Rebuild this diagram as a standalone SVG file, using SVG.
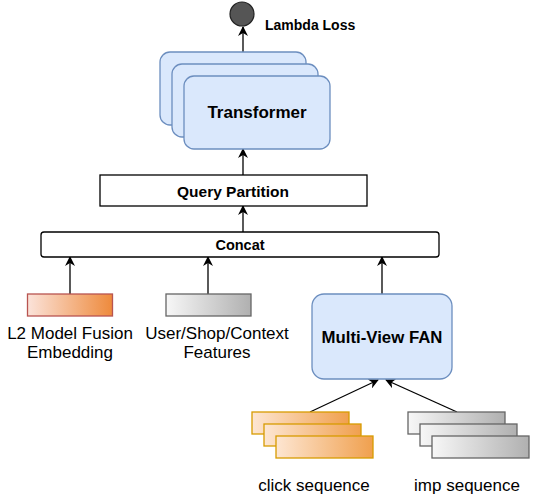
<svg xmlns="http://www.w3.org/2000/svg" width="538" height="499" viewBox="0 0 538 499">
<defs>
<linearGradient id="gOrange" x1="0" y1="0" x2="1" y2="0"><stop offset="0" stop-color="#fbe3da"/><stop offset="1" stop-color="#ee8a3c"/></linearGradient>
<linearGradient id="gGold" x1="0" y1="0" x2="1" y2="0"><stop offset="0" stop-color="#fde6d2"/><stop offset="1" stop-color="#f0a04e"/></linearGradient>
<linearGradient id="gGray" x1="0" y1="0" x2="1" y2="0"><stop offset="0" stop-color="#f7f7f7"/><stop offset="1" stop-color="#b0b0b0"/></linearGradient>
<marker id="arr" viewBox="0 0 10 10" refX="9" refY="5" markerWidth="10" markerHeight="10" markerUnits="userSpaceOnUse" orient="auto">
<path d="M0,0 L10,5 L0,10 L3,5 Z" fill="#000"/>
</marker>
<style>
.blue{fill:#dae8fc;stroke:#6c8ebf;stroke-width:1.3}
.plain{fill:#fff;stroke:#000;stroke-width:1.3}
.gold{fill:url(#gGold);stroke:#d79b00;stroke-width:1.3}
.gray{fill:url(#gGray);stroke:#666;stroke-width:1.3}
.bold{font-family:"Liberation Sans",Arial,sans-serif;font-weight:bold;fill:#000;text-anchor:middle}
.reg{font-family:"Liberation Sans",Arial,sans-serif;fill:#000;text-anchor:middle;font-size:17px}
.edge{stroke:#000;stroke-width:1.3;fill:none;marker-end:url(#arr)}
</style>
</defs>
<g id="connectors">
<path class="edge" d="M243,52 L243,27"/>
<path class="edge" d="M243,175 L243,149"/>
<path class="edge" d="M243,232 L243,206"/>
<path class="edge" d="M70,294 L70,257"/>
<path class="edge" d="M208,294 L208,257"/>
<path class="edge" d="M382,294 L382,257"/>
<path class="edge" d="M310,412 L378,380"/>
<path class="edge" d="M457,412 L386,380"/>
</g>
<g id="lambda-loss">
<circle cx="242" cy="14" r="12" fill="#555" stroke="#222" stroke-width="1.2"/>
<text x="265" y="30" font-family="Liberation Sans,Arial,sans-serif" font-weight="bold" font-size="14">Lambda Loss</text>
</g>
<g id="transformer">
<rect class="blue" x="160" y="52" width="146" height="73" rx="10"/>
<rect class="blue" x="172" y="64" width="146" height="73" rx="10"/>
<rect class="blue" x="184" y="76" width="146" height="73" rx="10"/>
<text class="bold" x="257" y="118" font-size="17">Transformer</text>
</g>
<g id="query-partition">
<rect class="plain" x="100" y="175" width="267" height="31"/>
<text class="bold" x="233" y="196.5" font-size="15.5">Query Partition</text>
</g>
<g id="concat">
<rect class="plain" x="41" y="232" width="398" height="25" rx="3"/>
<text class="bold" x="240" y="249.5" font-size="14.5">Concat</text>
</g>
<g id="l2-embedding">
<rect x="27.5" y="294" width="85" height="22" fill="url(#gOrange)" stroke="#b85450" stroke-width="1.3"/>
<text class="reg" x="70" y="339">L2 Model Fusion</text>
<text class="reg" x="70" y="358">Embedding</text>
</g>
<g id="user-features">
<rect class="gray" x="166" y="294" width="85" height="22"/>
<text class="reg" x="217" y="339">User/Shop/Context</text>
<text class="reg" x="217" y="358">Features</text>
</g>
<g id="multi-view-fan">
<rect class="blue" x="312" y="294" width="140" height="85" rx="12"/>
<text class="bold" x="382" y="342.5" font-size="16.8">Multi-View FAN</text>
</g>
<g id="click-sequence">
<rect class="gold" x="252" y="412" width="97" height="22"/>
<rect class="gold" x="264" y="424" width="97" height="22"/>
<rect class="gold" x="276" y="436" width="97" height="22"/>
<text class="reg" x="314" y="491">click sequence</text>
</g>
<g id="imp-sequence">
<rect class="gray" x="408" y="412" width="97" height="22"/>
<rect class="gray" x="420" y="424" width="97" height="22"/>
<rect class="gray" x="432" y="436" width="97" height="22"/>
<text class="reg" x="467" y="491">imp sequence</text>
</g>
</svg>
